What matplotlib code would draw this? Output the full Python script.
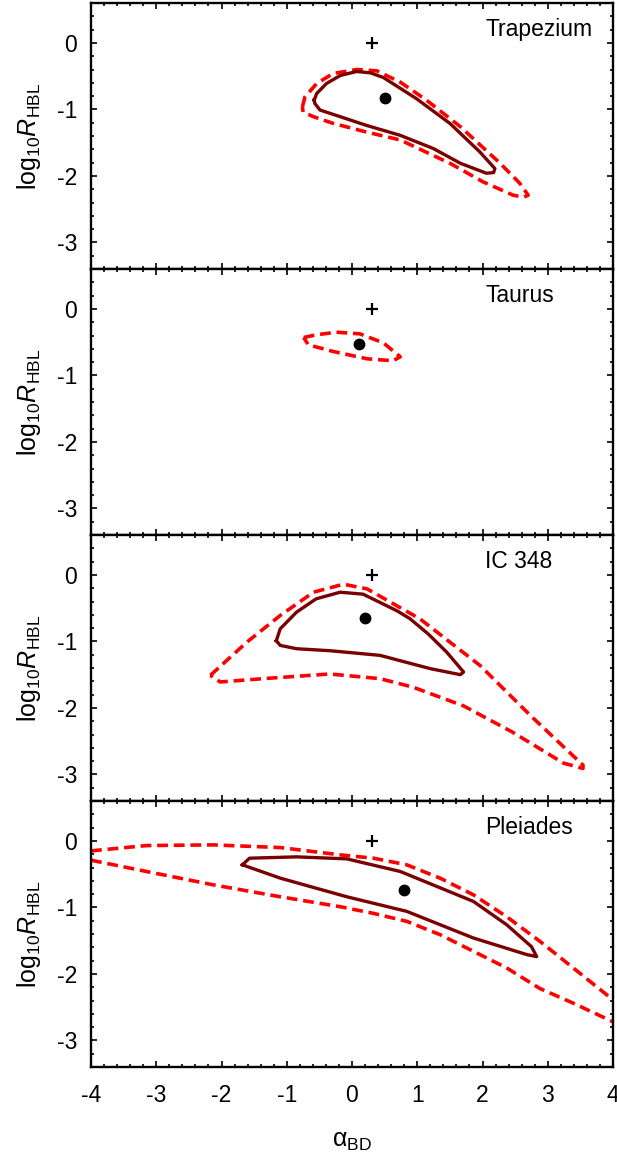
import matplotlib
matplotlib.use("Agg")
import matplotlib.pyplot as plt
from matplotlib.ticker import MultipleLocator

plt.rcParams['font.family'] = ['Liberation Sans', 'DejaVu Sans']
plt.rcParams['mathtext.fontset'] = 'custom'
plt.rcParams['mathtext.rm'] = 'Liberation Sans'
plt.rcParams['mathtext.it'] = 'Liberation Sans:italic'
plt.rcParams['mathtext.bf'] = 'Liberation Sans:bold'
plt.rcParams['axes.unicode_minus'] = False

# ---------------- data ----------------
cluster_names = ["Trapezium", "Taurus", "IC 348", "Pleiades"]

# best fit points (alpha_BD, log10 R_HBL)
best_alpha = [0.5, 0.1, 0.2, 0.8]
best_logR = [-0.83, -0.53, -0.65, -0.74]

# reference "+" marker
ref_alpha = 0.3
ref_logR = 0.0

# Trapezium contours
trap_solid_x = [-0.58, -0.54, -0.39, -0.18, 0.07, 0.28, 0.48, 0.99, 1.50, 1.96, 2.19, 2.17, 2.06,
                1.66, 1.25, 0.74, 0.22, -0.18, -0.49, -0.57, -0.58]
trap_solid_y = [-0.86, -0.76, -0.61, -0.49, -0.43, -0.45, -0.52, -0.84, -1.21, -1.64, -1.89, -1.95, -1.96,
                -1.81, -1.59, -1.39, -1.24, -1.11, -1.01, -0.91, -0.86]
trap_dash_x = [-0.76, -0.72, -0.54, -0.29, 0.07, 0.38, 0.74, 1.14, 1.66, 2.27, 2.57, 2.70, 2.63, 2.47,
               2.01, 1.50, 0.74, 0.22, -0.29, -0.59, -0.75, -0.76]
trap_dash_y = [-0.96, -0.81, -0.61, -0.46, -0.40, -0.42, -0.59, -0.86, -1.26, -1.81, -2.11, -2.29, -2.32, -2.29,
               -2.09, -1.81, -1.46, -1.34, -1.21, -1.11, -1.04, -0.96]

# Taurus contour (dashed only)
taur_dash_x = [-0.74, -0.55, -0.24, 0.12, 0.48, 0.74, 0.63, 0.23, -0.29, -0.67, -0.74]
taur_dash_y = [-0.43, -0.39, -0.35, -0.375, -0.51, -0.72, -0.78, -0.75, -0.64, -0.54, -0.43]

# IC 348 contours
ic_solid_x = [-1.16, -1.10, -0.85, -0.55, -0.18, 0.17, 0.69, 0.89, 1.17, 1.45, 1.71, 1.66, 1.20,
              0.43, -0.34, -0.85, -1.10, -1.16]
ic_solid_y = [-0.99, -0.81, -0.56, -0.36, -0.26, -0.29, -0.54, -0.66, -0.89, -1.16, -1.46, -1.50, -1.41,
              -1.21, -1.14, -1.11, -1.06, -0.99]
ic_dash_x = [-2.17, -1.61, -1.10, -0.59, -0.13, 0.23, 1.04, 1.96, 2.73, 3.54, 3.54, 3.24, 2.47, 1.71,
             0.94, 0.43, -0.34, -1.36, -2.02, -2.17]
ic_dash_y = [-1.51, -1.01, -0.61, -0.26, -0.14, -0.21, -0.66, -1.36, -2.11, -2.86, -2.91, -2.83, -2.37, -1.97,
             -1.69, -1.56, -1.49, -1.56, -1.61, -1.51]

# Pleiades contours
plei_solid_x = [-1.68, -1.57, -0.85, -0.08, 0.74, 1.86, 2.37, 2.75, 2.83, 2.68, 1.86, 0.84, -0.08, -1.10, -1.68]
plei_solid_y = [-0.36, -0.26, -0.24, -0.27, -0.46, -0.91, -1.26, -1.59, -1.74, -1.71, -1.46, -1.06, -0.84, -0.56, -0.36]
plei_dash_upper_x = [-4.0, -3.15, -2.13, -1.10, -0.18, 0.33, 0.84, 1.35, 1.86, 2.37, 2.88, 3.39, 4.0]
plei_dash_upper_y = [-0.15, -0.07, -0.06, -0.10, -0.21, -0.26, -0.36, -0.56, -0.81, -1.14, -1.51, -1.91, -2.39]
plei_dash_lower_x = [-4.0, -3.15, -2.13, -1.10, -0.18, 0.33, 0.84, 1.35, 1.86, 2.37, 2.88, 3.39, 4.0]
plei_dash_lower_y = [-0.29, -0.46, -0.66, -0.84, -0.99, -1.09, -1.21, -1.41, -1.66, -1.91, -2.22, -2.44, -2.72]

solid_curves = [
    [(trap_solid_x, trap_solid_y)],
    [],
    [(ic_solid_x, ic_solid_y)],
    [(plei_solid_x, plei_solid_y)],
]
dash_curves = [
    [(trap_dash_x, trap_dash_y)],
    [(taur_dash_x, taur_dash_y)],
    [(ic_dash_x, ic_dash_y)],
    [(plei_dash_upper_x, plei_dash_upper_y), (plei_dash_lower_x, plei_dash_lower_y)],
]

x_ticks = [-4, -3, -2, -1, 0, 1, 2, 3, 4]
y_ticks = [0, -1, -2, -3]

# ---------------- figure ----------------
W, H = 617, 1153
fig = plt.figure(figsize=(W / 100, H / 100), dpi=100)

left_px, right_px = 91, 613
tops_px = [3, 269, 535, 801]
panel_h = 266

solid_color = '#7a0000'
dash_color = '#ff0000'

for i, name in enumerate(cluster_names):
    top = tops_px[i]
    ax = fig.add_axes([left_px / W, 1 - (top + panel_h) / H, (right_px - left_px) / W, panel_h / H])
    for xs, ys in dash_curves[i]:
        ax.plot(xs, ys, color=dash_color, lw=2.6, linestyle=(0, (3.0, 1.6)),
                solid_capstyle='butt', dash_capstyle='butt', dash_joinstyle='round', zorder=2)
    for xs, ys in solid_curves[i]:
        ax.plot(xs, ys, color=solid_color, lw=2.4, solid_joinstyle='round', zorder=3)
    ax.plot([ref_alpha], [ref_logR], marker='+', color='black', ms=9, mew=1.6, ls='none', zorder=4)
    ax.plot([best_alpha[i]], [best_logR[i]], marker='o', color='black', ms=7.5, ls='none', zorder=4)

    ax.set_xlim(-4, 4)
    ax.set_ylim(-3.4, 0.6)
    ax.set_xticks(x_ticks)
    ax.set_yticks(y_ticks)
    ax.xaxis.set_minor_locator(MultipleLocator(0.2))
    ax.yaxis.set_minor_locator(MultipleLocator(0.2))
    ax.tick_params(which='both', direction='in', top=True, right=True, width=1.2)
    ax.tick_params(which='major', length=4.5, labelsize=16.5)
    ax.tick_params(axis='y', which='major', pad=10)
    ax.tick_params(axis='x', which='major', pad=12)
    ax.tick_params(which='minor', length=2.2)
    for sp in ax.spines.values():
        sp.set_linewidth(1.7)
    ax.set_yticklabels([str(t) for t in y_ticks])
    if i < 3:
        ax.tick_params(labelbottom=False)
    else:
        ax.set_xticklabels([str(t) for t in x_ticks])
        ax.set_xlabel('α$_{\\mathrm{BD}}$', fontsize=18, labelpad=16)
    ax.set_ylabel('log$_{10}$$\\mathit{R}$$_{\\mathrm{HBL}}$', fontsize=18, labelpad=10)
    ax.text(0.755, 0.9, name, transform=ax.transAxes, ha='left', va='center', fontsize=16.5)

fig.savefig('out.png', dpi=100)
